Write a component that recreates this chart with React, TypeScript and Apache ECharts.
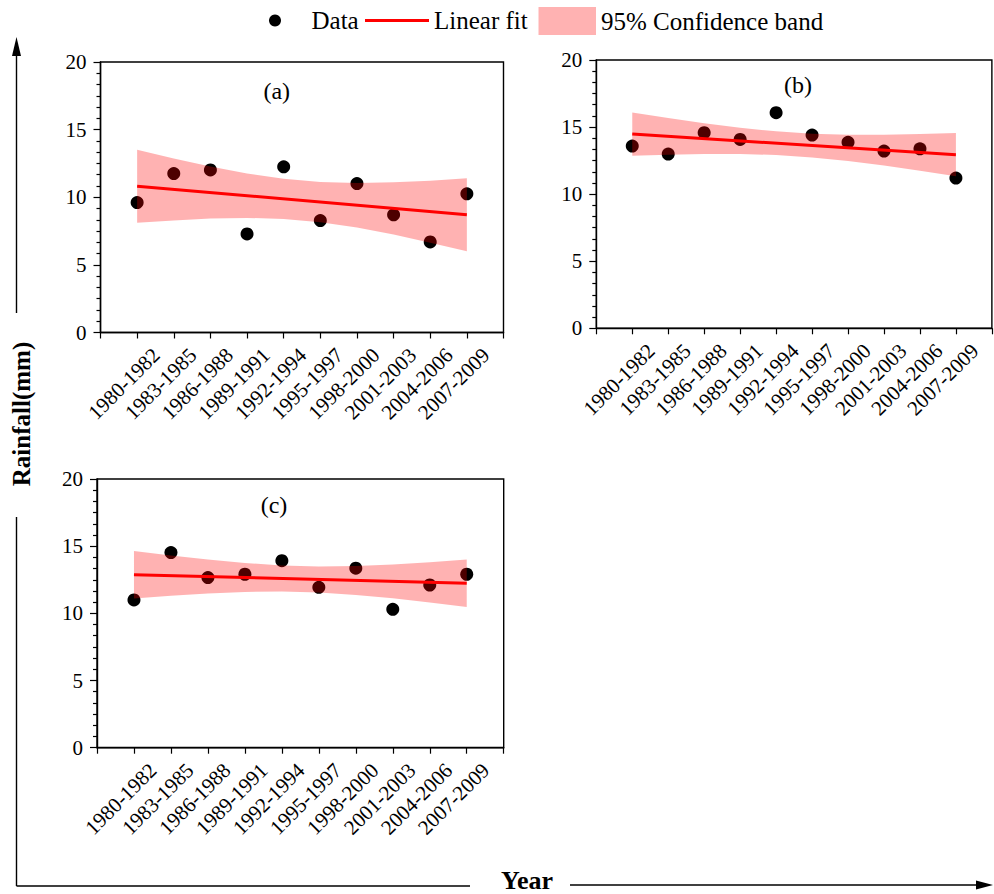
import React, { useEffect, useRef } from "react";
import * as echarts from "echarts";

const categories = [
  "1980-1982", "1983-1985", "1986-1988", "1989-1991", "1992-1994",
  "1995-1997", "1998-2000", "2001-2003", "2004-2006", "2007-2009",
];
const yTicks = [0, 5, 10, 15, 20];

// Panel (a)
const dataA = [9.61, 11.75, 12.02, 7.29, 12.25, 8.28, 11.01, 8.7, 6.7, 10.25];
const fitA = [10.82, 8.7];
const upperA = [13.52, 12.87, 12.28, 11.75, 11.36, 11.12, 11.05, 11.1, 11.22, 11.4];
const lowerA = [8.12, 8.29, 8.42, 8.47, 8.4, 8.16, 7.77, 7.24, 6.64, 6.0];

// Panel (b)
const dataB = [13.58, 12.99, 14.58, 14.08, 16.07, 14.4, 13.86, 13.21, 13.38, 11.2];
const fitB = [14.48, 12.94];
const upperB = [16.09, 15.68, 15.29, 14.95, 14.68, 14.5, 14.43, 14.43, 14.48, 14.55];
const lowerB = [12.87, 12.94, 12.99, 12.99, 12.92, 12.74, 12.47, 12.13, 11.74, 11.33];

// Panel (c)
const dataC = [11.0, 14.52, 12.66, 12.91, 13.92, 11.94, 13.36, 10.3, 12.11, 12.91];
const fitC = [12.88, 12.24];
const upperC = [14.65, 14.31, 14.0, 13.75, 13.57, 13.49, 13.53, 13.64, 13.81, 14.01];
const lowerC = [11.11, 11.31, 11.48, 11.59, 11.63, 11.55, 11.37, 11.12, 10.81, 10.47];

const panelNames = ["(a)", "(b)", "(c)"];

const FONT = "Liberation Serif";
const BAND = "rgba(255,0,0,0.3)";

export default function App() {
  const ref = useRef<HTMLDivElement>(null);
  useEffect(() => {
    if (!ref.current) return;
    const chart = echarts.init(ref.current, null, { renderer: "svg" });
    const panels = [
      { data: dataA, fit: fitA, upper: upperA, lower: lowerA },
      { data: dataB, fit: fitB, upper: upperB, lower: lowerB },
      { data: dataC, fit: fitC, upper: upperC, lower: lowerC },
    ];
    const grids = [
      { left: 100.5, top: 62, width: 403, height: 270.5 },
      { left: 596.3, top: 60, width: 407, height: 268.3 },
      { left: 97, top: 479, width: 406.7, height: 268.7 },
    ].map((g) => ({ ...g, show: true, borderColor: "#000", borderWidth: 1.4, backgroundColor: "transparent" }));

    const xAxes = grids.map((_, i) => ({
      type: "value",
      gridIndex: i,
      min: 0,
      max: categories.length + 1,
      interval: 1,
      splitLine: { show: false },
      axisLine: { show: true, lineStyle: { color: "#000", width: 1.4 } },
      axisTick: { show: true, length: 6, lineStyle: { color: "#000", width: 1.2 } },
      axisLabel: {
        rotate: 45,
        margin: 0,
        align: "right",
        verticalAlign: "middle",
        fontFamily: FONT,
        fontSize: 21,
        color: "#000",
        formatter: (v: number) => (categories[v - 1] ? `{t|${categories[v - 1]}}` : ""),
        rich: {
          t: { fontFamily: FONT, fontSize: 21, color: "#000", padding: [54, 0, 0, 0] },
        },
      },
    }));
    const yAxes = grids.map((_, i) => ({
      type: "value",
      gridIndex: i,
      min: yTicks[0],
      max: yTicks[yTicks.length - 1],
      interval: yTicks[1] - yTicks[0],
      splitLine: { show: false },
      axisLine: { show: true, lineStyle: { color: "#000", width: 1.4 } },
      axisTick: { show: true, length: 7, lineStyle: { color: "#000", width: 1.2 } },
      minorTick: { show: true, splitNumber: 6, length: 4, lineStyle: { color: "#000", width: 1.2 } },
      axisLabel: {
        margin: 14,
        fontFamily: FONT,
        fontSize: 21,
        color: "#000",
        formatter: (v: number) => `{t|${v}}`,
        rich: { t: { fontFamily: FONT, fontSize: 21, color: "#000" } },
      },
    }));

    const series: any[] = [];
    panels.forEach((p, i) => {
      series.push({
        name: "Data",
        type: "scatter",
        xAxisIndex: i,
        yAxisIndex: i,
        symbol: "circle",
        symbolSize: 13,
        itemStyle: { color: "#000", opacity: 1 },
        z: 2,
        data: p.data.map((v, k) => [k + 1, v]),
      });
      series.push({
        name: "95% Confidence band",
        type: "custom",
        xAxisIndex: i,
        yAxisIndex: i,
        z: 3,
        itemStyle: { color: BAND },
        encode: { x: 0, y: [1, 2] },
        data: p.upper.map((u, k) => [k + 1, p.lower[k], u]),
        renderItem: (params: any, api: any) => {
          if (params.dataIndex !== 0) return null;
          const pts: number[][] = [];
          for (let k = 0; k < p.upper.length; k++) pts.push(api.coord([k + 1, p.upper[k]]));
          for (let k = p.lower.length - 1; k >= 0; k--) pts.push(api.coord([k + 1, p.lower[k]]));
          return { type: "polygon", shape: { points: pts }, style: { fill: BAND } };
        },
      });
      series.push({
        name: "Linear fit",
        type: "line",
        xAxisIndex: i,
        yAxisIndex: i,
        z: 4,
        symbol: "none",
        lineStyle: { color: "#ff0000", width: 3 },
        itemStyle: { color: "#ff0000" },
        data: [
          [1, p.fit[0]],
          [categories.length, p.fit[1]],
        ],
      });
    });

    const legendText = { fontFamily: FONT, fontSize: 25, color: "#000" };
    const legends = [
      {
        left: 269, top: 8, padding: 0, selectedMode: false,
        itemWidth: 63, itemHeight: 12, textStyle: legendText,
        data: [{ name: "Data", icon: "circle", itemStyle: { color: "#000", opacity: 1 } }],
      },
      {
        left: 365, top: 8, padding: 0, selectedMode: false,
        itemWidth: 64, itemHeight: 3, textStyle: legendText,
        data: [{ name: "Linear fit", icon: "rect", itemStyle: { color: "#ff0000", borderWidth: 0 } }],
      },
      {
        left: 538.5, top: 7, padding: 0, selectedMode: false,
        itemWidth: 57.5, itemHeight: 28, textStyle: legendText,
        data: [{ name: "95% Confidence band", icon: "rect", itemStyle: { color: BAND, borderWidth: 0 } }],
      },
    ];

    const lineStyle = { stroke: "#000", lineWidth: 1.4 };
    const panelPos = [
      [276.7, 91],
      [798, 85],
      [274, 505],
    ];
    const graphic: any[] = [
      { type: "line", shape: { x1: 16.5, y1: 55, x2: 16.5, y2: 313 }, style: lineStyle },
      { type: "polygon", shape: { points: [[16.5, 37], [12, 56], [21, 56]] }, style: { fill: "#000" } },
      { type: "line", shape: { x1: 16.5, y1: 517, x2: 16.5, y2: 886 }, style: lineStyle },
      { type: "line", shape: { x1: 16.5, y1: 886, x2: 470, y2: 886 }, style: lineStyle },
      { type: "line", shape: { x1: 570, y1: 885, x2: 978, y2: 885 }, style: lineStyle },
      { type: "polygon", shape: { points: [[993, 885], [976, 880.5], [976, 889.5]] }, style: { fill: "#000" } },
      {
        type: "text", x: 21, y: 414, rotation: Math.PI / 2,
        style: { text: "Rainfall(mm)", fontFamily: FONT, fontSize: 25, fontWeight: "bold", fill: "#000", align: "center", verticalAlign: "middle" },
      },
      {
        type: "text", x: 527, y: 880,
        style: { text: "Year", fontFamily: FONT, fontSize: 26, fontWeight: "bold", fill: "#000", align: "center", verticalAlign: "middle" },
      },
      ...panelNames.map((t, i) => ({
        type: "text", x: panelPos[i][0], y: panelPos[i][1],
        style: { text: t, fontFamily: FONT, fontSize: 24, fill: "#000", align: "center", verticalAlign: "middle" },
      })),
    ];

    chart.setOption({
      animation: false,
      backgroundColor: "#fff",
      textStyle: { fontFamily: FONT },
      grid: grids,
      xAxis: xAxes,
      yAxis: yAxes,
      legend: legends,
      series,
      graphic,
    });
    return () => chart.dispose();
  }, []);
  return (
    <div
      ref={ref}
      style={{ position: "absolute", left: 0, top: 0, width: 994, height: 894 }}
    />
  );
}
